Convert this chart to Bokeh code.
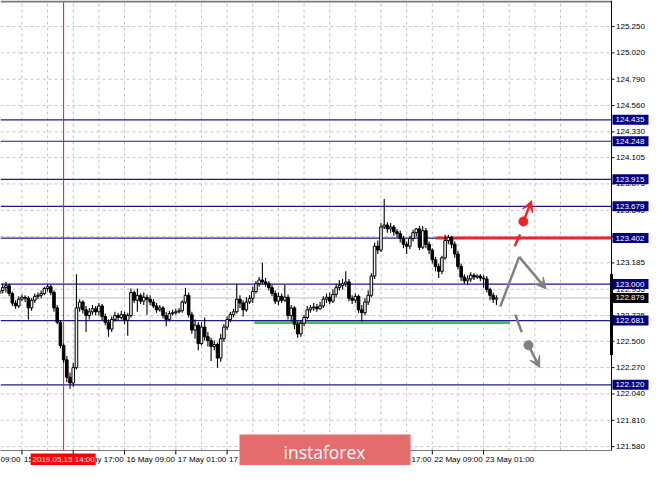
from bokeh.plotting import figure
from bokeh.models import Range1d, ColumnDataSource, Arrow, VeeHead
from bokeh.core.properties import value
from bokeh.embed import file_html
from bokeh.resources import INLINE

# ---------------- data (USD/JPY H1 candles) ----------------
open_ = [122.918, 122.944, 122.969, 122.986, 122.918, 122.834, 122.809, 122.868, 122.885, 122.876,
         122.792, 122.859, 122.893, 122.902, 122.918, 122.961, 122.977, 122.927, 122.792, 122.666,
         122.464, 122.338, 122.186, 122.136, 122.270, 122.792, 122.843, 122.775, 122.725, 122.758,
         122.784, 122.758, 122.809, 122.716, 122.666, 122.607, 122.691, 122.725, 122.708, 122.733,
         122.683, 122.725, 122.927, 122.859, 122.902, 122.851, 122.885, 122.868, 122.843, 122.809,
         122.775, 122.792, 122.725, 122.691, 122.742, 122.750, 122.758, 122.767, 122.843, 122.902,
         122.733, 122.598, 122.641, 122.481, 122.624, 122.540, 122.506, 122.455, 122.472, 122.354,
         122.523, 122.624, 122.691, 122.733, 122.758, 122.868, 122.834, 122.775, 122.843, 122.876,
         122.935, 123.003, 123.036, 123.019, 123.003, 122.969, 122.918, 122.851, 122.893, 122.859,
         122.885, 122.725, 122.792, 122.649, 122.565, 122.657, 122.708, 122.775, 122.792, 122.800,
         122.784, 122.809, 122.868, 122.885, 122.851, 122.910, 122.969, 122.986, 123.003, 123.019,
         122.876, 122.859, 122.893, 122.775, 122.750, 122.843, 122.902, 123.070, 123.331, 123.297,
         123.499, 123.516, 123.482, 123.499, 123.457, 123.440, 123.398, 123.348, 123.331, 123.398,
         123.449, 123.482, 123.322, 123.466, 123.348, 123.297, 123.213, 123.154, 123.112, 123.230,
         123.381, 123.407, 123.348, 123.263, 123.154, 123.061, 123.028, 123.045, 123.078, 123.061,
         123.070, 123.053, 123.045, 122.952, 122.902, 122.868]
close = [122.944, 122.969, 122.986, 122.918, 122.834, 122.809, 122.868, 122.885, 122.876, 122.792,
         122.859, 122.893, 122.902, 122.918, 122.961, 122.977, 122.927, 122.792, 122.666, 122.464,
         122.338, 122.186, 122.136, 122.270, 122.792, 122.843, 122.775, 122.725, 122.758, 122.784,
         122.758, 122.809, 122.716, 122.666, 122.607, 122.691, 122.725, 122.708, 122.733, 122.683,
         122.725, 122.927, 122.859, 122.902, 122.851, 122.885, 122.868, 122.843, 122.809, 122.775,
         122.792, 122.725, 122.691, 122.742, 122.750, 122.758, 122.767, 122.843, 122.902, 122.733,
         122.598, 122.641, 122.481, 122.624, 122.540, 122.506, 122.455, 122.472, 122.354, 122.523,
         122.624, 122.691, 122.733, 122.758, 122.868, 122.834, 122.775, 122.843, 122.876, 122.935,
         123.003, 123.036, 123.019, 123.003, 122.969, 122.918, 122.851, 122.893, 122.859, 122.885,
         122.725, 122.792, 122.649, 122.565, 122.657, 122.708, 122.775, 122.792, 122.800, 122.784,
         122.809, 122.868, 122.885, 122.851, 122.910, 122.969, 122.986, 123.003, 123.019, 122.876,
         122.859, 122.893, 122.775, 122.750, 122.843, 122.902, 123.070, 123.331, 123.297, 123.499,
         123.516, 123.482, 123.499, 123.457, 123.440, 123.398, 123.348, 123.331, 123.398, 123.449,
         123.482, 123.322, 123.466, 123.348, 123.297, 123.213, 123.154, 123.112, 123.230, 123.381,
         123.407, 123.348, 123.263, 123.154, 123.061, 123.028, 123.045, 123.078, 123.061, 123.070,
         123.053, 123.045, 122.952, 122.902, 122.868, 122.879]
high = [122.977, 123.003, 123.019, 123.003, 122.935, 122.859, 122.893, 122.910, 122.902, 122.893,
        122.876, 122.918, 122.927, 122.944, 122.977, 123.003, 122.994, 122.944, 122.817, 122.683,
        122.481, 122.371, 122.228, 122.312, 123.087, 122.868, 122.859, 122.809, 122.792, 122.817,
        122.809, 122.834, 122.826, 122.742, 122.691, 122.716, 122.758, 122.750, 122.767, 122.758,
        122.750, 122.961, 122.944, 122.961, 122.918, 122.927, 122.910, 122.902, 122.868, 122.834,
        122.817, 122.809, 122.758, 122.767, 122.775, 122.784, 122.792, 122.859, 122.969, 122.927,
        122.758, 122.691, 122.666, 122.666, 122.708, 122.582, 122.531, 122.506, 122.489, 122.565,
        122.649, 122.716, 122.758, 122.784, 123.003, 122.902, 122.859, 122.885, 122.902, 122.977,
        123.028, 123.061, 123.188, 123.053, 123.028, 122.994, 122.944, 122.927, 122.918, 122.994,
        122.910, 122.817, 122.809, 122.674, 122.683, 122.733, 122.809, 122.817, 122.834, 122.826,
        122.843, 122.893, 122.918, 122.927, 122.952, 123.003, 123.036, 123.045, 123.112, 123.045,
        122.902, 122.918, 122.910, 122.817, 122.876, 122.944, 123.095, 123.364, 123.381, 123.533,
        123.743, 123.541, 123.533, 123.516, 123.482, 123.466, 123.423, 123.373, 123.423, 123.474,
        123.491, 123.508, 123.508, 123.491, 123.373, 123.314, 123.238, 123.179, 123.247, 123.432,
        123.432, 123.423, 123.373, 123.289, 123.179, 123.087, 123.078, 123.104, 123.095, 123.087,
        123.087, 123.078, 123.070, 122.969, 122.927, 122.902]
low = [122.893, 122.918, 122.927, 122.893, 122.809, 122.784, 122.792, 122.851, 122.843, 122.691,
       122.767, 122.834, 122.868, 122.876, 122.902, 122.935, 122.902, 122.758, 122.649, 122.439,
       122.312, 122.144, 122.085, 122.102, 122.253, 122.758, 122.742, 122.582, 122.691, 122.733,
       122.725, 122.725, 122.683, 122.641, 122.540, 122.582, 122.674, 122.683, 122.691, 122.649,
       122.548, 122.708, 122.834, 122.758, 122.826, 122.817, 122.733, 122.817, 122.792, 122.750,
       122.758, 122.699, 122.632, 122.674, 122.725, 122.733, 122.742, 122.750, 122.826, 122.708,
       122.565, 122.523, 122.422, 122.464, 122.506, 122.455, 122.329, 122.422, 122.270, 122.321,
       122.497, 122.598, 122.666, 122.708, 122.742, 122.792, 122.716, 122.758, 122.826, 122.834,
       122.918, 122.977, 122.994, 122.977, 122.944, 122.893, 122.826, 122.817, 122.834, 122.843,
       122.691, 122.674, 122.607, 122.531, 122.540, 122.632, 122.691, 122.750, 122.767, 122.758,
       122.775, 122.792, 122.834, 122.826, 122.834, 122.885, 122.944, 122.952, 122.977, 122.851,
       122.826, 122.834, 122.750, 122.674, 122.725, 122.817, 122.885, 123.045, 123.263, 123.280,
       123.482, 123.449, 123.449, 123.423, 123.407, 123.364, 123.314, 123.263, 123.306, 123.373,
       123.415, 123.297, 123.306, 123.314, 123.263, 123.179, 123.112, 123.053, 123.087, 123.213,
       123.348, 123.314, 123.230, 123.129, 123.028, 123.003, 122.994, 123.019, 123.036, 123.045,
       123.028, 122.969, 122.927, 122.859, 122.834, 122.817]
bars = list(range(len(close)))

tick_bars = [7, 23, 39, 55, 71, 87, 103, 119, 135, 151]
tick_labels = ["15 May 01:00", "15 May 17:00", "16 May 09:00", "17 May 01:00", "17 May 17:00",
               "20 May 09:00", "21 May 01:00", "21 May 17:00", "22 May 09:00", "23 May 01:00"]
prev_tick_label_tail = "09:00"          # visible tail of "14 May 09:00"
grid_bars = list(range(7, 191, 8))

price_ticks = [125.250, 125.020, 124.790, 124.560, 124.330, 124.105, 123.875, 123.645, 123.415,
               123.185, 122.955, 122.725, 122.500, 122.270, 122.040, 121.810, 121.580]
levels = [124.435, 124.248, 123.915, 123.679, 123.402, 123.000, 122.681, 122.120]
bid_price = 122.879
day_range = [123.087, 122.380]

resistance = 123.402
resistance_from_bar = 136
support = 122.665
support_bars = [79.5, 159.2]

marker_bar = 20
marker_label = "2019.05.15 14:00"

# forecast scenarios (bar, price)
up_tick_bars, up_tick_prices = [160.7, 162.4], [123.331, 123.434]
up_arrow_bars, up_arrow_prices = [163.4, 166.0], [123.547, 123.729]
main_bars, main_prices = [156.2, 162.1, 170.5], [122.803, 123.238, 122.958]
down_tick_bars, down_tick_prices = [160.9, 162.9], [122.733, 122.579]
down_arrow_bars, down_arrow_prices = [165.0, 168.5], [122.466, 122.270]

# ---------------- layout (pixels) ----------------
W, H = 649, 465
CHART_W = 611          # chart area from x=0 to the price axis line
CHART_TOP, CHART_BOTTOM = 1, 450
X0, X1 = 0.31, 190.9
Y0, Y1 = 121.546, 125.469
bpp = (X1 - X0) / CHART_W
ppp = (Y1 - Y0) / (CHART_BOTTOM - CHART_TOP)


def dx(n):
    return n * bpp


def dy(n):
    return n * ppp


def px_x(n):
    return X0 + n * bpp


def px_y(n):
    return Y1 + (CHART_TOP - n) * ppp


FONT = value("Liberation Sans")
FS = "8px"
NAVY = "#1c1c8c"
RED = "#e8262a"
GRAY = "#808080"

p = figure(width=W, height=H, x_range=Range1d(px_x(0), px_x(W)), y_range=Range1d(px_y(H), px_y(0)),
           x_axis_location=None, y_axis_location=None, output_backend="svg", toolbar_location=None,
           min_border=0)
p.background_fill_color = "white"
p.border_fill_color = "white"
p.outline_line_color = None
p.xgrid.visible = False
p.ygrid.visible = False

# grids (dashed), limited to the chart area
p.segment(x0=grid_bars, y0=[Y0] * len(grid_bars), x1=grid_bars, y1=[Y1] * len(grid_bars),
          line_color="#c4c4c4", line_dash="3 3", line_width=1)
p.segment(x0=[X0] * len(price_ticks), y0=price_ticks, x1=[X1] * len(price_ticks), y1=price_ticks,
          line_color="#c4c4c4", line_dash="3 3", line_width=1)

# bid line, levels, marker line
p.segment(x0=[X0], y0=[bid_price], x1=[X1], y1=[bid_price], line_color="#c0c0c0", line_width=1)
p.segment(x0=[X0] * len(levels), y0=levels, x1=[X1] * len(levels), y1=levels,
          line_color=NAVY, line_width=1.2)
p.segment(x0=[marker_bar], y0=[Y0], x1=[marker_bar], y1=[Y1], line_color="#c42a2a", line_width=1)

p.segment(x0=[resistance_from_bar], y0=[resistance], x1=[X1], y1=[resistance],
          line_color=RED, line_width=3)
p.segment(x0=[support_bars[0]], y0=[support], x1=[support_bars[1]], y1=[support],
          line_color="#3cbf5a", line_width=3)

# candles
src = ColumnDataSource(dict(x=bars, h=high, l=low))
p.segment(x0="x", y0="h", x1="x", y1="l", source=src, line_color="#000000", line_width=1.1)
bull = [i for i in bars if close[i] >= open_[i]]
bear = [i for i in bars if close[i] < open_[i]]
bull_src = ColumnDataSource(dict(x=bull, top=[close[i] for i in bull], bot=[open_[i] for i in bull]))
bear_src = ColumnDataSource(dict(x=bear, top=[open_[i] for i in bear], bot=[close[i] for i in bear]))
p.vbar(x="x", width=0.8, top="top", bottom="bot", source=bull_src,
       fill_color="#f4f4f4", line_color="#000000", line_width=1)
p.vbar(x="x", width=0.8, top="top", bottom="bot", source=bear_src,
       fill_color="#000000", line_color="#000000", line_width=1)

# forecast drawings
p.line(up_tick_bars, up_tick_prices, line_color=RED, line_width=2.5)
p.scatter([up_arrow_bars[0]], [up_arrow_prices[0]], size=9, color=RED)
p.add_layout(Arrow(end=VeeHead(size=11, fill_color=RED, line_color=RED),
                   x_start=up_arrow_bars[0], y_start=up_arrow_prices[0],
                   x_end=up_arrow_bars[1], y_end=up_arrow_prices[1],
                   line_color=RED, line_width=2.5))
p.line(main_bars[:2], main_prices[:2], line_color=GRAY, line_width=2.5)
p.add_layout(Arrow(end=VeeHead(size=11, fill_color=GRAY, line_color=GRAY),
                   x_start=main_bars[1], y_start=main_prices[1],
                   x_end=main_bars[2], y_end=main_prices[2],
                   line_color=GRAY, line_width=2.5))
p.line(down_tick_bars, down_tick_prices, line_color=GRAY, line_width=2.5)
p.scatter([down_arrow_bars[0]], [down_arrow_prices[0]], size=9, color=GRAY)
p.add_layout(Arrow(end=VeeHead(size=11, fill_color=GRAY, line_color=GRAY),
                   x_start=down_arrow_bars[0], y_start=down_arrow_prices[0],
                   x_end=down_arrow_bars[1], y_end=down_arrow_prices[1],
                   line_color=GRAY, line_width=2.5))

# ---------------- axes (drawn in the plot's own data space) ----------------
p.segment(x0=[px_x(0)], y0=[Y1], x1=[X1], y1=[Y1], line_color="#7a7a7a", line_width=2)
p.segment(x0=[X1], y0=[Y0], x1=[X1], y1=[px_y(0)], line_color="#000000", line_width=1)
p.segment(x0=[px_x(0)], y0=[Y0], x1=[X1], y1=[Y0], line_color="#7a7a7a", line_width=1)
p.segment(x0=[X1], y0=[day_range[0]], x1=[X1], y1=[day_range[1]], line_color="#000000", line_width=3)

# price axis ticks and labels
n = len(price_ticks)
p.segment(x0=[X1] * n, y0=price_ticks, x1=[X1 + dx(3)] * n, y1=price_ticks,
          line_color="#000000", line_width=1)
p.text(x=[X1 + dx(4.5)] * n, y=price_ticks, text=[f"{v:.3f}" for v in price_ticks],
       text_font=FONT, text_font_size=FS, text_color="#000000",
       text_align="left", text_baseline="middle")

# time axis ticks and labels
m = len(tick_bars)
p.segment(x0=tick_bars, y0=[Y0] * m, x1=tick_bars, y1=[Y0 - dy(4)] * m,
          line_color="#000000", line_width=1)
p.text(x=[b + dx(2) for b in tick_bars], y=[Y0 - dy(9)] * m, text=tick_labels,
       text_font=FONT, text_font_size=FS, text_color="#000000",
       text_align="left", text_baseline="middle")
p.text(x=[px_x(0)], y=[Y0 - dy(9)], text=[prev_tick_label_tail],
       text_font=FONT, text_font_size=FS, text_color="#000000",
       text_align="left", text_baseline="middle")

# marker time box
p.quad(left=[marker_bar - dx(33)], right=[marker_bar + dx(32)], top=[Y0 - dy(3)], bottom=[px_y(H)],
       fill_color="#ff0000", line_color=None)
p.text(x=[marker_bar], y=[Y0 - dy(9)], text=[marker_label], text_font=FONT, text_font_size=FS,
       text_color="#ffffff", text_align="center", text_baseline="middle")

# price boxes on the axis
k = len(levels)
p.quad(left=[X1 + dx(1)] * k, right=[X1 + dx(37)] * k,
       top=[v + dy(5) for v in levels], bottom=[v - dy(5) for v in levels],
       fill_color="#000080", line_color=None)
p.text(x=[X1 + dx(4)] * k, y=levels, text=[f"{v:.3f}" for v in levels],
       text_font=FONT, text_font_size=FS, text_color="#ffffff",
       text_align="left", text_baseline="middle")
p.quad(left=[X1 + dx(1)], right=[X1 + dx(37)], top=[bid_price + dy(5)], bottom=[bid_price - dy(5)],
       fill_color="#000000", line_color=None)
p.text(x=[X1 + dx(4)], y=[bid_price], text=[f"{bid_price:.3f}"],
       text_font=FONT, text_font_size=FS, text_color="#ffffff",
       text_align="left", text_baseline="middle")

# logo
p.quad(left=[px_x(239)], right=[px_x(410)], top=[Y0 + dy(16)], bottom=[px_y(H)],
       fill_color="#e46c6c", line_color=None)
p.text(x=[px_x(324)], y=[Y0 - dy(1)], text=["instaforex"], text_font=value("Open Sans"),
       text_font_size="17.5px", text_color="#ffffff", text_align="center", text_baseline="middle")

open("out.html", "w").write(file_html(p, INLINE))
